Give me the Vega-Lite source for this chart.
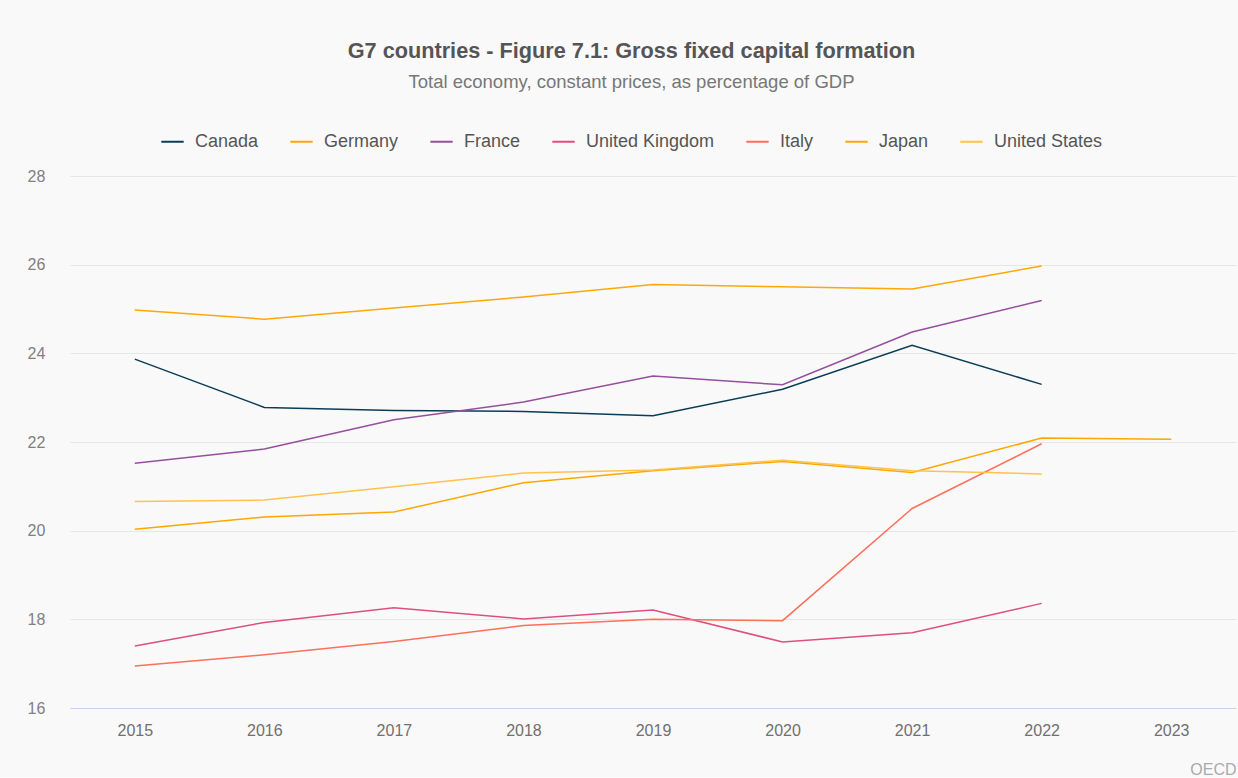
{
  "$schema": "https://vega.github.io/schema/vega-lite/v6.json",
  "width": 1166,
  "height": 532,
  "padding": {"left": 27, "top": 40, "right": 2, "bottom": 0},
  "background": "#f9f9f9",
  "title": {
    "text": "G7 countries - Figure 7.1: Gross fixed capital formation",
    "subtitle": "Total economy, constant prices, as percentage of GDP",
    "anchor": "middle",
    "frame": "bounds",
    "font": "Liberation Sans",
    "fontSize": 21.7,
    "fontWeight": "bold",
    "color": "#555555",
    "subtitleFont": "Liberation Sans",
    "subtitleFontSize": 18.5,
    "subtitleColor": "#777777",
    "subtitlePadding": 10,
    "offset": 38
  },
  "data": {
    "values": [
      {"year": "2015", "country": "Canada", "value": 23.87},
      {"year": "2016", "country": "Canada", "value": 22.78},
      {"year": "2017", "country": "Canada", "value": 22.71},
      {"year": "2018", "country": "Canada", "value": 22.69},
      {"year": "2019", "country": "Canada", "value": 22.59},
      {"year": "2020", "country": "Canada", "value": 23.19},
      {"year": "2021", "country": "Canada", "value": 24.18},
      {"year": "2022", "country": "Canada", "value": 23.30},
      {"year": "2015", "country": "Germany", "value": 20.03},
      {"year": "2016", "country": "Germany", "value": 20.31},
      {"year": "2017", "country": "Germany", "value": 20.42},
      {"year": "2018", "country": "Germany", "value": 21.08},
      {"year": "2019", "country": "Germany", "value": 21.35},
      {"year": "2020", "country": "Germany", "value": 21.56},
      {"year": "2021", "country": "Germany", "value": 21.31},
      {"year": "2022", "country": "Germany", "value": 22.09},
      {"year": "2023", "country": "Germany", "value": 22.06},
      {"year": "2015", "country": "France", "value": 21.52},
      {"year": "2016", "country": "France", "value": 21.84},
      {"year": "2017", "country": "France", "value": 22.50},
      {"year": "2018", "country": "France", "value": 22.90},
      {"year": "2019", "country": "France", "value": 23.49},
      {"year": "2020", "country": "France", "value": 23.29},
      {"year": "2021", "country": "France", "value": 24.48},
      {"year": "2022", "country": "France", "value": 25.19},
      {"year": "2015", "country": "United Kingdom", "value": 17.40},
      {"year": "2016", "country": "United Kingdom", "value": 17.93},
      {"year": "2017", "country": "United Kingdom", "value": 18.26},
      {"year": "2018", "country": "United Kingdom", "value": 18.01},
      {"year": "2019", "country": "United Kingdom", "value": 18.21},
      {"year": "2020", "country": "United Kingdom", "value": 17.49},
      {"year": "2021", "country": "United Kingdom", "value": 17.70},
      {"year": "2022", "country": "United Kingdom", "value": 18.36},
      {"year": "2015", "country": "Italy", "value": 16.95},
      {"year": "2016", "country": "Italy", "value": 17.20},
      {"year": "2017", "country": "Italy", "value": 17.50},
      {"year": "2018", "country": "Italy", "value": 17.86},
      {"year": "2019", "country": "Italy", "value": 18.00},
      {"year": "2020", "country": "Italy", "value": 17.97},
      {"year": "2021", "country": "Italy", "value": 20.50},
      {"year": "2022", "country": "Italy", "value": 21.96},
      {"year": "2015", "country": "Japan", "value": 24.98},
      {"year": "2016", "country": "Japan", "value": 24.77},
      {"year": "2017", "country": "Japan", "value": 25.02},
      {"year": "2018", "country": "Japan", "value": 25.27},
      {"year": "2019", "country": "Japan", "value": 25.55},
      {"year": "2020", "country": "Japan", "value": 25.50},
      {"year": "2021", "country": "Japan", "value": 25.45},
      {"year": "2022", "country": "Japan", "value": 25.97},
      {"year": "2015", "country": "United States", "value": 20.66},
      {"year": "2016", "country": "United States", "value": 20.69},
      {"year": "2017", "country": "United States", "value": 20.99},
      {"year": "2018", "country": "United States", "value": 21.30},
      {"year": "2019", "country": "United States", "value": 21.37},
      {"year": "2020", "country": "United States", "value": 21.59},
      {"year": "2021", "country": "United States", "value": 21.35},
      {"year": "2022", "country": "United States", "value": 21.28}
    ]
  },
  "mark": {"type": "line", "strokeWidth": 1.5},
  "encoding": {
    "x": {
      "field": "year",
      "type": "ordinal",
      "scale": {"type": "point", "padding": 0.5, "domain": ["2015","2016","2017","2018","2019","2020","2021","2022","2023"]},
      "axis": {
        "title": "OECD",
        "titleAnchor": "end",
        "titleAlign": "right",
        "titleFont": "Liberation Sans",
        "titleFontSize": 16,
        "titleFontWeight": "normal",
        "titleColor": "#aaaaaa",
        "titlePadding": 23,
        "labelAngle": 0,
        "labelFont": "Liberation Sans",
        "labelFontSize": 16,
        "labelColor": "#707070",
        "labelPadding": 14,
        "ticks": false,
        "domainColor": "#c5d3ea",
        "domainWidth": 1,
        "grid": false
      }
    },
    "y": {
      "field": "value",
      "type": "quantitative",
      "scale": {"domain": [16, 28], "nice": false, "zero": false},
      "axis": {
        "title": null,
        "values": [16, 18, 20, 22, 24, 26, 28],
        "labelAlign": "left",
        "labelPadding": 43,
        "labelFont": "Liberation Sans",
        "labelFontSize": 16,
        "labelColor": "#808080",
        "ticks": false,
        "domain": false,
        "grid": true,
        "gridColor": "#e6e6e6",
        "gridWidth": 1
      }
    },
    "color": {
      "field": "country",
      "type": "nominal",
      "scale": {
        "domain": ["Canada", "Germany", "France", "United Kingdom", "Italy", "Japan", "United States"],
        "range": ["#0b3d57", "#ffa600", "#964f9c", "#dd4f80", "#ff6f5a", "#ffa707", "#ffc24a"]
      },
      "legend": {
        "title": null,
        "orient": "none",
        "legendX": 90,
        "legendY": -47,
        "direction": "horizontal",
        "symbolType": "stroke",
        "symbolSize": 500,
        "symbolStrokeWidth": 2,
        "labelFont": "Liberation Sans",
        "labelFontSize": 18,
        "labelColor": "#555555",
        "labelOffset": 10,
        "columnPadding": 27,
        "padding": 0
      }
    }
  },
  "config": {
    "view": {"stroke": null}
  }
}
